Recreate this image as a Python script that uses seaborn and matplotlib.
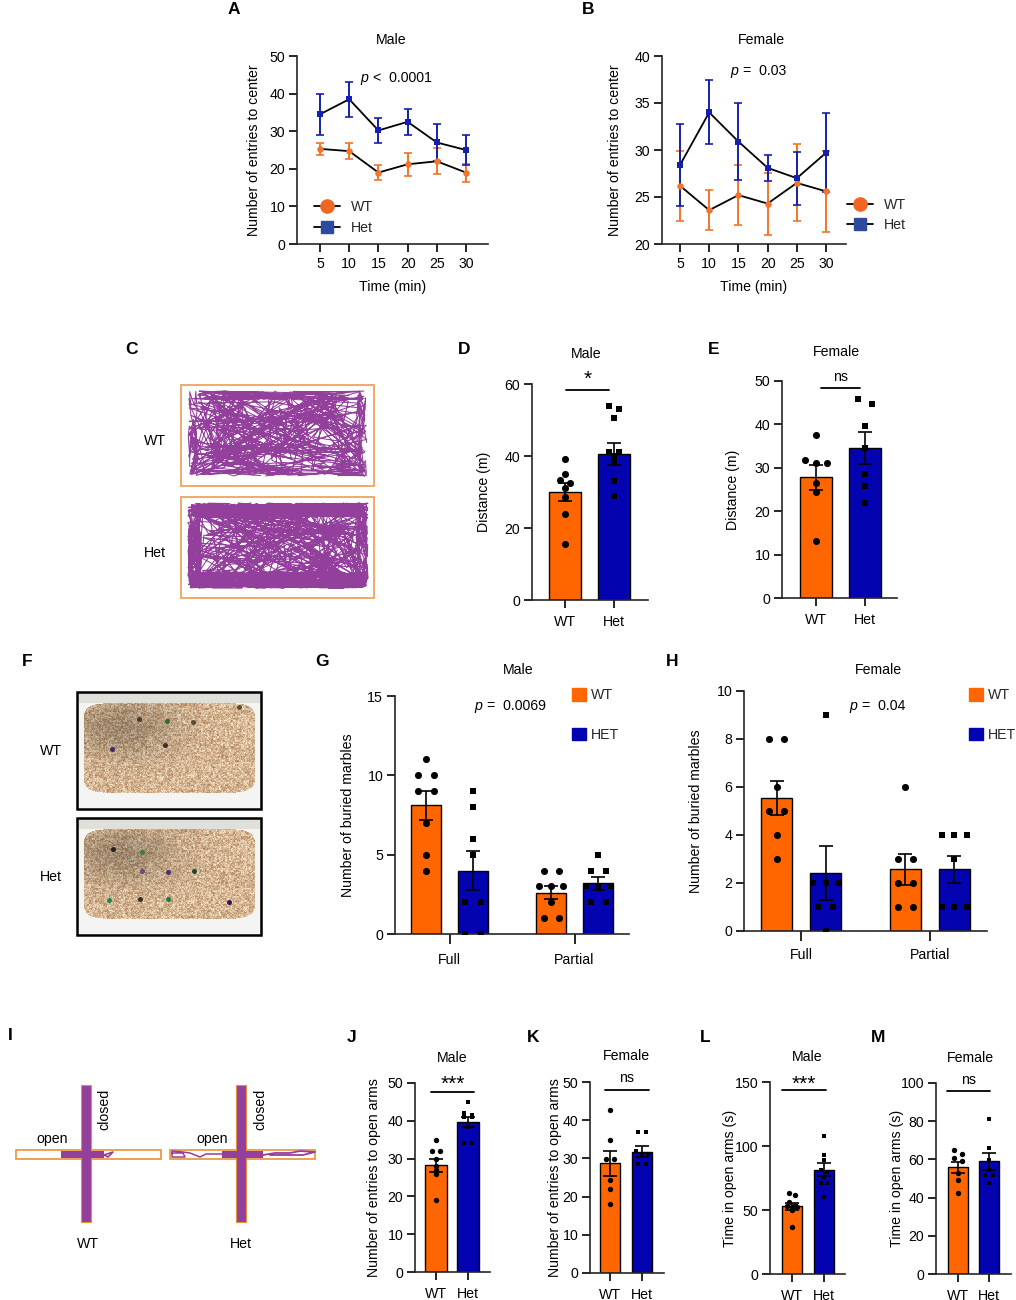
import numpy as np
import matplotlib
matplotlib.use("Agg")
import matplotlib.pyplot as plt
from matplotlib.lines import Line2D
from matplotlib.patches import Patch, Rectangle
import seaborn as sns

W, H = 1016, 1300

ORANGE = "#FF6600"
BLUE = "#0303AF"
LINE_ORANGE = "#F4732A"
LINE_BLUE = "#1420AC"
PURPLE = "#93409C"
BOX_ORANGE = "#F2A25C"

# panels A and B, entries to center
times = [5, 10, 15, 20, 25, 30]
a_wt = [25.3, 24.7, 19.0, 21.2, 22.0, 19.0]
a_wt_sem = [1.6, 2.2, 1.9, 3.0, 3.4, 2.4]
a_het = [34.5, 38.5, 30.2, 32.5, 27.0, 25.0]
a_het_sem = [5.5, 4.7, 3.4, 3.5, 4.9, 4.0]
b_wt = [26.2, 23.6, 25.2, 24.3, 26.5, 25.6]
b_wt_sem = [3.7, 2.1, 3.2, 3.3, 4.1, 4.3]
b_het = [28.4, 34.0, 30.9, 28.1, 27.0, 29.7]
b_het_sem = [4.4, 3.4, 4.1, 1.4, 2.8, 4.2]

# panels D and E, distance
d_means = [30.0, 40.5]
d_sems = [2.6, 3.0]
d_wt = [39.3, 35.0, 33.2, 32.5, 31.0, 28.5, 24.0, 15.5]
d_het = [53.8, 53.0, 50.6, 41.0, 41.0, 40.0, 38.5, 33.0, 29.0]
e_means = [27.8, 34.5]
e_sems = [2.9, 3.7]
e_wt = [37.6, 31.8, 31.2, 31.2, 26.5, 24.4, 13.2]
e_het = [45.9, 44.7, 39.6, 34.6, 28.5, 25.8, 21.9]

# panels G and H, buried marbles
g_means = [8.1, 4.0, 2.6, 3.2]
g_sems = [0.9, 1.25, 0.4, 0.42]
g_points = [[11, 10, 10, 9, 9, 7, 5, 4], [9, 8, 6, 5, 2, 2, 0, 0],
            [4, 4, 3, 3, 3, 2, 1, 1], [5, 4, 4, 3, 3, 3, 2, 2]]
h_means = [5.55, 2.43, 2.57, 2.57]
h_sems = [0.72, 1.13, 0.65, 0.57]
h_points = [[8, 8, 6, 5, 5, 4, 3], [9, 2, 2, 2, 1, 1, 0],
            [6, 3, 3, 2, 2, 1, 1], [4, 4, 4, 3, 1, 1, 1]]

# panels J to M, elevated plus maze
j_means = [28.2, 39.7]
j_sems = [1.8, 1.4]
j_wt = [35, 32, 32, 30, 28, 27, 26, 19]
j_het = [45, 42, 41.5, 41, 41, 38.4, 34, 34]
k_means = [28.7, 31.8]
k_sems = [3.3, 1.4]
k_wt = [42.8, 34.8, 29.9, 29.9, 24.3, 21.9, 18]
k_het = [37, 37, 32, 31.2, 31.2, 28.6, 28.6]
l_means = [53.0, 81.5]
l_sems = [2.8, 5.0]
l_wt = [63, 62, 56, 54, 53, 52, 52, 50, 37]
l_het = [107.8, 93, 89, 81, 80, 76, 71, 71, 60]
m_means = [55.8, 59.0]
m_sems = [3.0, 4.3]
m_wt = [65, 63, 60.6, 59, 52.7, 49, 42.6]
m_het = [81.4, 65.8, 59.7, 54.5, 52, 52, 47.8]

sns.set_theme(style="ticks")
plt.rcParams["font.family"] = ["Liberation Sans", "DejaVu Sans"]
plt.rcParams["axes.linewidth"] = 1.2

TEXT = 10.2

fig = plt.figure(figsize=(W / 100, H / 100), dpi=100, facecolor="white")


def px_axes(left, right, top, bottom):
    return fig.add_axes([left / W, 1 - bottom / H, (right - left) / W, (bottom - top) / H])


def style_axes(ax, box, ylim, yticks, ylabel, label_x, xlen=5.5, xpad=4):
    ax.set_ylim(*ylim)
    ax.set_yticks(yticks)
    ax.set_ylabel(ylabel, fontsize=TEXT, color="black")
    ax.yaxis.set_label_coords((label_x + 10 - box[0]) / (box[1] - box[0]), 0.5)
    ax.tick_params(axis="y", length=5.5, width=1.2, labelsize=TEXT, colors="black", pad=3)
    ax.tick_params(axis="x", length=xlen, width=1.2, labelsize=TEXT, colors="black", pad=xpad)
    sns.despine(ax=ax)


def line_panel(box, tick_px, ylim, yticks, wt, wt_sem, het, het_sem, label_x):
    ax = px_axes(*box)
    for means, sems, col, mk, size in [(wt, wt_sem, LINE_ORANGE, "o", 22), (het, het_sem, LINE_BLUE, "s", 18)]:
        ax.errorbar(times, means, yerr=sems, fmt="none", ecolor=col, elinewidth=1.4,
                    capsize=3, capthick=1.2, zorder=2)
        sns.lineplot(x=times, y=means, color="black", linewidth=1.3, ax=ax, zorder=3)
        sns.scatterplot(x=times, y=means, color=col, marker=mk, s=size, linewidth=0,
                        ax=ax, zorder=4, legend=False)
    unit = (tick_px[1] - tick_px[0]) / 25
    ax.set_xlim(5 + (box[0] - tick_px[0]) / unit, 5 + (box[1] - tick_px[0]) / unit)
    ax.set_xticks(times)
    ax.set_xlabel("Time (min)", fontsize=TEXT, labelpad=6, color="black")
    style_axes(ax, box, ylim, yticks, "Number of entries to center", label_x)
    return ax


def spread(values, tol, step):
    # side by side offsets for points of nearly the same height
    values = np.asarray(values, dtype=float)
    order = np.argsort(-values)
    offsets = np.zeros(len(values))
    groups = [[order[0]]]
    for i in order[1:]:
        if values[groups[-1][0]] - values[i] < tol:
            groups[-1].append(i)
        else:
            groups.append([i])
    for grp in groups:
        gap = step if len(grp) < 3 else step * 0.82
        for n, i in enumerate(grp):
            offsets[i] = (n - (len(grp) - 1) / 2) * gap
    return offsets


def bar_panel(box, tick_px, positions, means, sems, points, ylim, yticks, ylabel,
              width, tol, step, s_dot, s_sq, label_x, xlen=5.5, xpad=5):
    ax = px_axes(*box)
    names = ["WT" if i % 2 == 0 else "Het" for i in range(len(means))]
    sns.barplot(x=positions, y=means, hue=names, palette={"WT": ORANGE, "Het": BLUE},
                dodge=False, native_scale=True, width=width, edgecolor="black", saturation=1,
                linewidth=1.0, errorbar=None, legend=False, ax=ax, zorder=2)
    for pos, pts, name in zip(positions, points, names):
        xs = pos + spread(pts, tol, step)
        sns.scatterplot(x=xs, y=pts, color="black", linewidth=0, legend=False, ax=ax, zorder=3,
                        marker="o" if name == "WT" else "s", s=s_dot if name == "WT" else s_sq)
    ax.errorbar(positions, means, yerr=sems, fmt="none", ecolor="black", elinewidth=1.2,
                capsize=5, capthick=1.2, zorder=4)
    unit = tick_px[1] - tick_px[0]
    ax.set_xlim((box[0] - tick_px[0]) / unit, (box[1] - tick_px[0]) / unit)
    ax.set_xlabel("")
    style_axes(ax, box, ylim, yticks, ylabel, label_x, xlen, xpad)
    return ax


ax_a = line_panel((297, 488, 56, 244), (320, 466), (0, 50), [0, 10, 20, 30, 40, 50],
                  a_wt, a_wt_sem, a_het, a_het_sem, 251)
ax_b = line_panel((662, 846, 56, 244), (680, 826), (20, 40), [20, 25, 30, 35, 40],
                  b_wt, b_wt_sem, b_het, b_het_sem, 612)

two = [0, 1]
labels = ["WT", "Het"]
small = [
    ((532, 648, 384, 600), (565, 614), d_means, d_sems, [d_wt, d_het], (0, 60), [0, 20, 40, 60],
     "Distance (m)", 0.65, 0.8, 0.2, 26, 20, 481),
    ((782, 897, 381, 598), (816, 865), e_means, e_sems, [e_wt, e_het], (0, 50), [0, 10, 20, 30, 40, 50],
     "Distance (m)", 0.65, 1.3, 0.28, 26, 20, 730),
    ((415, 490, 1083, 1272), (436, 468), j_means, j_sems, [j_wt, j_het], (0, 50), [0, 10, 20, 30, 40, 50],
     "Number of entries to open arms", 0.66, 0.9, 0.26, 15, 12, 371),
    ((590, 664, 1082, 1273), (610, 642), k_means, k_sems, [k_wt, k_het], (0, 50), [0, 10, 20, 30, 40, 50],
     "Number of entries to open arms", 0.64, 0.9, 0.24, 15, 12, 552),
    ((770, 845, 1082, 1274), (792, 824), l_means, l_sems, [l_wt, l_het], (0, 150), [0, 50, 100, 150],
     "Time in open arms (s)", 0.64, 2.4, 0.2, 15, 12, 727),
    ((936, 1011, 1083, 1274), (958, 989), m_means, m_sems, [m_wt, m_het], (0, 100), [0, 20, 40, 60, 80, 100],
     "Time in open arms (s)", 0.66, 2.5, 0.26, 15, 12, 894),
]
for box, tick_px, means, sems, points, ylim, yticks, ylabel, width, tol, step, s_dot, s_sq, label_x in small:
    ax = bar_panel(box, tick_px, two, means, sems, points, ylim, yticks, ylabel,
                   width, tol, step, s_dot, s_sq, label_x)
    ax.set_xticks(two)
    ax.set_xticklabels(labels)

ax_g = bar_panel((395, 629, 696, 934), (426, 473), [0, 1, 2.66, 3.66], g_means, g_sems, g_points,
                 (0, 15), [0, 5, 10, 15], "Number of buried marbles", 0.64, 0.4, 0.32, 26, 20, 345, 7, 7)
ax_g.set_xticks([0.5, 3.16])
ax_g.set_xticklabels(["Full", "Partial"])
ax_h = bar_panel((744, 987, 691, 931), (776.5, 825.5), [0, 1, 2.63, 3.63], h_means, h_sems, h_points,
                 (0, 10), [0, 2, 4, 6, 8, 10], "Number of buried marbles", 0.62, 0.3, 0.32, 26, 20, 693, 7, 5)
ax_h.set_xticks([0.5, 3.13])
ax_h.set_xticklabels(["Full", "Partial"])


def key_legend(ax, handles, x, y, **kw):
    ax.legend(handles, [h.get_label() for h in handles], loc="upper left",
              bbox_to_anchor=(x / W, 1 - y / H), bbox_transform=fig.transFigure,
              frameon=False, borderpad=0, borderaxespad=0, fontsize=TEXT, **kw)


def line_keys():
    return [Line2D([], [], color="black", lw=1.3, marker="o", ms=9.5, mfc="#F26522", mec="#F26522", label="WT"),
            Line2D([], [], color="black", lw=1.3, marker="s", ms=9, mfc="#2E4A9E", mec="#2E4A9E", label="Het")]


def box_keys():
    return [Patch(color=ORANGE, label="WT"), Patch(color=BLUE, label="HET")]


key_legend(ax_a, line_keys(), 314, 200, handlelength=1.8, handletextpad=0.8, labelspacing=0.5)
key_legend(ax_b, line_keys(), 847, 198, handlelength=1.8, handletextpad=0.8, labelspacing=0.42)
key_legend(ax_g, box_keys(), 572, 688, handlelength=1.0, handleheight=1.0, handletextpad=0.35, labelspacing=1.8)
key_legend(ax_h, box_keys(), 969, 688, handlelength=1.0, handleheight=1.0, handletextpad=0.35, labelspacing=1.8)

# overlay in pixel coordinates for the photos, tracks and annotations
ov = fig.add_axes([0, 0, 1, 1], zorder=10)
ov.set_xlim(0, W)
ov.set_ylim(H, 0)
ov.axis("off")
ov.patch.set_alpha(0)


def label(x, y, s, size=TEXT, **kw):
    ov.text(x, y, s, fontsize=size, ha=kw.pop("ha", "center"), va="center", color="black", **kw)


for x, y, s in [(234, 10, "A"), (588, 10, "B"), (132, 350, "C"), (464, 350, "D"), (714, 350, "E"),
                (27, 661, "F"), (322, 661, "G"), (672, 661, "H"), (10, 1036, "I"), (352, 1037, "J"),
                (533, 1037, "K"), (705, 1037, "L"), (878, 1037, "M")]:
    label(x, y, s, size=12.5, fontweight="bold")

for x, y, s in [(391, 40, "Male"), (761, 40, "Female"), (586, 354, "Male"), (836, 352, "Female"),
                (518, 670, "Male"), (878, 670, "Female"), (452, 1058, "Male"), (626, 1056, "Female"),
                (807, 1057, "Male"), (970, 1058, "Female")]:
    label(x, y, s)

for x, y, rest in [(364, 78, "<  0.0001"), (734, 71, "=  0.03"), (478, 706, "=  0.0069"), (853, 706, "=  0.04")]:
    label(x, y, "p", style="italic")
    label(x + 9, y, rest, ha="left")

for x0, x1, y, s, ty, size in [(566, 609, 390, "*", 379, 15), (821, 860, 388, "ns", 377, TEXT),
                               (431, 474, 1092, "***", 1084, 15), (605, 649, 1090, "ns", 1078, TEXT),
                               (782, 826, 1090, "***", 1084, 15), (947, 990, 1091, "ns", 1080, TEXT)]:
    ov.plot([x0, x1], [y, y], color="black", lw=1.3)
    label((x0 + x1) / 2, ty, s, size=size)


def frac(v):
    return v - np.floor(v)


def hash01(k, seed):
    # plain sine hash, only used to scribble the illustration tracks and gravel
    return frac(np.sin(k * 12.9898 + seed * 78.233) * 43758.5453)


def bounce(u):
    return 2 * np.abs(frac(u / 2) - 0.5)


def track(x0, x1, y0, y1, n, seed, reach_x, reach_y, lw=0.75):
    # wandering path that folds back at the arena walls
    k = np.arange(n)
    dx = (hash01(k, seed) - 0.5) * reach_x
    dy = (hash01(k, seed + 1.7) - 0.5) * reach_y
    xs = x0 + (x1 - x0) * bounce(np.cumsum(dx) + 0.5)
    ys = y0 + (y1 - y0) * bounce(np.cumsum(dy) + 0.3)
    ov.plot(xs, ys, color=PURPLE, lw=lw, solid_joinstyle="round")


# panel C
ov.add_patch(Rectangle((181, 385), 193, 101, fill=False, ec=BOX_ORANGE, lw=1.3))
ov.add_patch(Rectangle((181, 497), 193, 101, fill=False, ec=BOX_ORANGE, lw=1.3))
track(188, 367, 391, 476, 340, 1.0, 1.1, 1.5)
track(188, 367, 391, 400, 120, 2.0, 0.5, 1.0)
track(188, 367, 462, 476, 120, 3.0, 0.5, 1.0)
track(188, 198, 391, 476, 70, 4.0, 1.2, 0.5)
track(357, 367, 391, 476, 70, 5.0, 1.2, 0.5)
track(188, 368, 503, 588, 360, 6.0, 1.1, 1.5)
track(188, 368, 503, 517, 700, 7.0, 0.4, 1.2, lw=0.9)
track(188, 368, 572, 588, 700, 8.0, 0.4, 1.2, lw=0.9)
track(188, 201, 503, 588, 260, 9.0, 1.2, 0.4, lw=0.9)
track(356, 368, 503, 588, 160, 10.0, 1.2, 0.4)
label(155, 441, "WT")
label(155, 553, "Het")


def gravel_photo(top, marbles):
    left, right, bottom = 77, 261, top + 117
    yy, xx = np.mgrid[0:117, 0:184].astype(float)
    # pale tray behind the bedding
    img = np.ones((117, 184, 3)) * np.array([0.96, 0.96, 0.95])
    img[yy < 11] = np.array([0.88, 0.88, 0.86])
    inx = (xx - 92) / 86
    iny = (yy - 55.5) / 45
    mask = np.abs(inx) ** 9 + np.abs(iny) ** 9 < 1
    noise = hash01(xx * 1.37 + yy * 57.1, 0.3)
    coarse = hash01(np.floor(xx / 2) * 3.1 + np.floor(yy / 2) * 41.7, 0.9)
    shade = 0.55 * noise + 0.45 * coarse
    light = np.array([1.0, 0.94, 0.84])
    dark = np.array([0.68, 0.50, 0.33])
    grav = dark + (light - dark)[None, None, :] * shade[..., None]
    # darker patch towards the upper left, where the photo is shaded
    gloom = np.exp(-(((xx - 45) / 55) ** 2 + ((yy - 35) / 30) ** 2))[..., None]
    grav = grav * (1 - 0.25 * gloom)
    img[mask] = grav[mask]
    ov.imshow(img, extent=(left, right, bottom, top), aspect="auto", interpolation="bilinear", zorder=1)
    ov.add_patch(Rectangle((left, top), right - left, 117, fill=False, ec="black", lw=1.8, zorder=3))
    for x, y, c in marbles:
        ov.plot(x, y, "o", ms=3.6, color=c, mew=0, zorder=2)


gravel_photo(692, [(139, 719, "#4a3b2a"), (167, 721, "#2e6b3c"), (193, 722, "#5a4a38"), (239, 707, "#55503a"),
                   (165, 745, "#3e3025"), (112, 749, "#3c2a6a")])
gravel_photo(818, [(113, 849, "#222222"), (142, 852, "#3f7a4a"), (142, 871, "#6c4a7a"), (168, 872, "#4a2f7c"),
                   (194, 871, "#1c4a30"), (109, 900, "#1f8a4c"), (140, 899, "#3a3020"), (168, 899, "#1f7a44"),
                   (229, 902, "#2a1a5c")])
ov.set_xlim(0, W)
ov.set_ylim(H, 0)
label(51, 751, "WT")
label(51, 877, "Het")


def maze(cx, hx0, hx1, purple_x0, purple_x1):
    # one open arm box and the filled closed arms
    ov.add_patch(Rectangle((hx0, 1150), hx1 - hx0, 9, fill=False, ec="#E8913A", lw=1.2))
    ov.add_patch(Rectangle((cx - 5, 1085), 10, 137, fc=PURPLE, ec="#E8913A", lw=0.8))
    ov.add_patch(Rectangle((purple_x0, 1151), purple_x1 - purple_x0, 7, fc=PURPLE, ec="none"))


maze(86, 15.5, 161, 61, 104)
ov.plot([104, 113, 108, 104], [1155, 1152, 1157, 1155], color=PURPLE, lw=1.2)
maze(241, 169.5, 315, 222, 263)
ov.plot([222, 206, 200, 190, 183, 172, 172, 185, 183, 172], [1154, 1154, 1157, 1153, 1152, 1151, 1157, 1157, 1153, 1153],
        color=PURPLE, lw=1.1)
ov.plot([263, 275, 290, 300, 315, 303, 270], [1155, 1153, 1153, 1151, 1152, 1155, 1155], color=PURPLE, lw=1.3)
label(52, 1139, "open")
label(212, 1139, "open")
label(104, 1109, "closed", rotation=90)
label(260, 1109, "closed", rotation=90)
label(88, 1244, "WT")
label(241, 1244, "Het")

fig.savefig("out.png", dpi=100)
